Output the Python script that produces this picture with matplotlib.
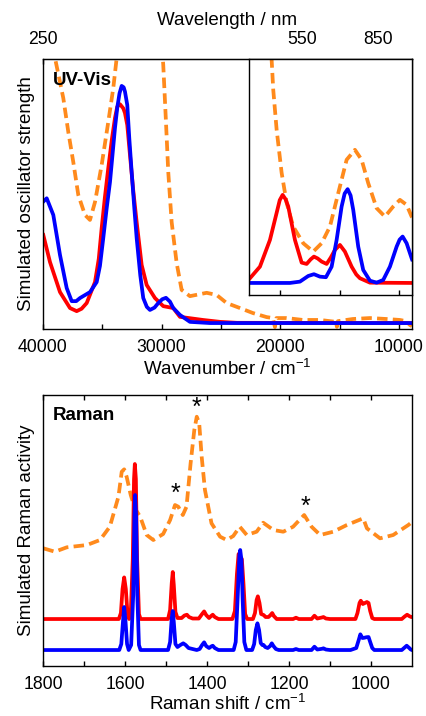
import matplotlib
matplotlib.use("Agg")
import matplotlib.pyplot as plt
import numpy as np

plt.rcParams['font.family'] = ['Liberation Sans', 'DejaVu Sans']
plt.rcParams['mathtext.default'] = 'regular'

RED = '#ff0000'
BLUE = '#0000ff'
ORANGE = '#ff8a1c'

# ---------------- UV-Vis (main panel) ----------------
uv_blue_wn = [39975, 39688, 39132, 38568, 38003, 37582, 37200, 36883, 36040, 35476, 35200,
              34920, 34633, 34355, 33934, 33740, 33550, 33370, 33200, 33092, 32898, 32729,
              32527, 32300, 32106, 31800, 31550, 31250, 30985, 30600, 30286, 29950, 29637,
              29300, 29022, 28458, 27615, 25930, 8900]
uv_blue = [0.510, 0.524, 0.454, 0.286, 0.147, 0.092, 0.092, 0.105, 0.130, 0.172, 0.240,
           0.357, 0.482, 0.592, 0.819, 0.905, 0.965, 0.996, 0.990, 0.972, 0.916, 0.777,
           0.634, 0.480, 0.357, 0.200, 0.105, 0.068, 0.055, 0.065, 0.084, 0.100, 0.106,
           0.090, 0.063, 0.034, 0.005, 0.0, 0.0]

uv_red_wn = [39975, 39410, 38568, 37725, 37161, 36750, 36318, 35619, 35300, 35055, 34780,
             34498, 34200, 33934, 33740, 33513, 33235, 33092, 32898, 32670, 32400, 32106,
             31685, 31263, 30564, 29865, 29022, 28458, 26520, 25088, 23656, 8900]
uv_red = [0.370, 0.256, 0.130, 0.063, 0.050, 0.060, 0.084, 0.172, 0.270, 0.399, 0.530,
          0.651, 0.770, 0.861, 0.909, 0.919, 0.902, 0.882, 0.832, 0.706, 0.560, 0.424,
          0.244, 0.160, 0.105, 0.071, 0.063, 0.026, 0.013, 0.005, 0.001, 0.0]

uv_exp_wn = [40000, 38989, 38290, 37869, 37447, 37026, 36462, 36040, 35619, 35055,
             34498, 34077, 33791, 33400, 30300, 29865, 29637, 29443, 29157, 28736,
             28315, 27615, 26208, 25366, 24523, 23403, 22308, 21153, 20622, 20454,
             20328, 19468, 18095, 16663, 15314, 15230, 15146, 13882, 12450, 11043,
             9922, 9417, 9080, 8911]
uv_exp = [1.45, 1.113, 0.945, 0.803, 0.676, 0.538, 0.454, 0.433, 0.508, 0.664,
          0.845, 0.987, 1.113, 1.40, 1.40, 1.084, 0.845, 0.634, 0.424, 0.252,
          0.139, 0.113, 0.127, 0.118, 0.084, 0.063, 0.042, 0.025, 0.021, -0.017,
          0.021, 0.021, 0.013, 0.013, 0.005, -0.016, 0.008, 0.017, 0.021, 0.017,
          0.013, 0.008, -0.008, -0.013]

# ---------------- UV-Vis (inset, magnified) ----------------
in_red_wn = [22700, 22560, 21718, 20875, 20311, 20050, 19805, 19560, 19333, 18769, 18204,
             17783, 17450, 17168, 16850, 16520, 16098, 15750, 15399, 14978, 14557, 13992,
             13600, 13293, 12450, 8900]
in_red = [0.03, 0.050, 0.173, 0.457, 0.745, 0.880, 0.936, 0.890, 0.812, 0.457, 0.216,
          0.202, 0.250, 0.280, 0.260, 0.227, 0.202, 0.270, 0.351, 0.404, 0.333, 0.173,
          0.090, 0.050, 0.003, 0.0]

in_blue_wn = [22700, 19190, 18348, 17648, 17168, 16663, 16157, 15677, 15256, 14835,
              14580, 14329, 14080, 13857, 13436, 13015, 12450, 11886, 11329, 10765, 10200,
              9950, 9695, 9358, 8937, 8900]
in_blue = [0.0, 0.0, 0.014, 0.074, 0.093, 0.067, 0.061, 0.173, 0.457, 0.812,
           0.950, 0.997, 0.930, 0.777, 0.386, 0.138, 0.024, 0.003, 0.032, 0.173, 0.386,
           0.460, 0.493, 0.422, 0.263, 0.25]

in_exp_wn = [21000, 20732, 20597, 20311, 19890, 19468, 18912, 18070, 17227, 16520,
             15820, 15121, 14413, 13714, 13150, 12594, 11886, 11187, 10487, 9922,
             9358, 8937, 8900]
in_exp = [2.9, 2.372, 2.053, 1.628, 1.170, 0.851, 0.599, 0.422, 0.333, 0.422,
          0.599, 0.954, 1.309, 1.415, 1.309, 1.061, 0.795, 0.705, 0.812, 0.883,
          0.830, 0.705, 0.70]

# ---------------- Raman ----------------
ram_blue_x = [1800, 1614, 1609, 1605, 1602, 1599, 1595, 1591, 1585, 1580, 1577, 1575.5,
              1573, 1570, 1566, 1562, 1495, 1490, 1486, 1483.5, 1481, 1477, 1472, 1465,
              1458, 1452, 1445, 1435, 1425, 1418, 1412, 1407, 1402, 1395, 1390, 1386,
              1381, 1372, 1335, 1330, 1325, 1321, 1319, 1316, 1313, 1309, 1304, 1290,
              1285, 1281, 1277, 1273, 1269, 1265, 1262, 1258, 1252, 1246, 1242, 1238,
              1232, 1225, 1190, 1183, 1176, 1145, 1138, 1131, 1120, 1116, 1110, 1100,
              1050, 1043, 1036, 1030, 1026, 1021, 1016, 1011, 1006, 1002, 997, 992,
              925, 918, 913, 908, 903, 900]
ram_blue = [0, 0, 0.06, 0.28, 0.43, 0.30, 0.06, 0.0, 0.05, 0.55, 1.35, 1.55,
            1.35, 0.55, 0.05, 0, 0, 0.08, 0.32, 0.39, 0.28, 0.06, 0.03, 0.05,
            0.067, 0.05, 0.02, 0.01, 0.0, 0.01, 0.05, 0.077, 0.04, 0.02, 0.035, 0.043,
            0.02, 0, 0, 0.08, 0.55, 0.95, 1.0, 0.9, 0.5, 0.08, 0, 0,
            0.06, 0.2, 0.267, 0.2, 0.07, 0.05, 0.05, 0.03, 0.02, 0.04, 0.067, 0.04,
            0.01, 0, 0, 0.01, 0, 0, 0.033, 0.005, 0.012, 0.017, 0.005, 0,
            0, 0.01, 0.02, 0.1, 0.157, 0.12, 0.123, 0.128, 0.13, 0.08, 0.02, 0,
            0, 0.025, 0.043, 0.025, 0.005, 0]

ram_red_x = [1800, 1615, 1610, 1606, 1602, 1598, 1594, 1590, 1586, 1581, 1578, 1576,
             1573.5, 1570.5, 1566, 1562, 1495, 1490, 1486, 1483.5, 1481, 1477, 1472, 1462,
             1455, 1449, 1444, 1435, 1420, 1412, 1407, 1402, 1395, 1390, 1386, 1381,
             1372, 1338, 1332, 1327, 1323, 1319, 1315, 1311, 1307, 1302, 1288, 1283,
             1279, 1276, 1272, 1268, 1262, 1257, 1250, 1245, 1241, 1237, 1230, 1190,
             1183, 1176, 1145, 1138, 1131, 1120, 1116, 1110, 1100, 1038, 1033, 1028,
             1025, 1020, 1015, 1010, 1006, 1002, 997, 992, 925, 918, 912, 907, 902, 900]
ram_red = [0, 0, 0.06, 0.3, 0.416, 0.3, 0.06, 0, 0.05, 0.6, 1.4, 1.55,
           1.4, 0.6, 0.05, 0, 0, 0.09, 0.36, 0.47, 0.34, 0.07, 0.01, 0.01,
           0.035, 0.043, 0.02, 0.005, 0.005, 0.05, 0.076, 0.04, 0.01, 0.03, 0.043, 0.02,
           0, 0, 0.08, 0.45, 0.65, 0.62, 0.6, 0.35, 0.05, 0, 0, 0.06,
           0.19, 0.227, 0.16, 0.05, 0.04, 0.02, 0.02, 0.04, 0.06, 0.03, 0, 0,
           0.013, 0, 0, 0.033, 0.005, 0.015, 0.02, 0.005, 0, 0, 0.06, 0.16,
           0.183, 0.15, 0.16, 0.17, 0.16, 0.08, 0.01, 0, 0, 0.025, 0.043, 0.03, 0.02, 0.02]
red_offset = 0.31

ram_exp_x = [1799, 1771, 1742, 1693, 1661, 1637, 1616, 1608, 1602, 1596, 1586, 1576,
             1563, 1547, 1531, 1507, 1490, 1478, 1470, 1459, 1450, 1440, 1431, 1425,
             1419, 1413, 1405, 1389, 1368, 1352, 1336, 1320, 1303, 1279, 1263, 1238,
             1214, 1190, 1163, 1145, 1124, 1092, 1059, 1019, 1010, 978, 946, 909, 900]
ram_exp = [1.017, 0.983, 1.027, 1.05, 1.10, 1.233, 1.533, 1.783, 1.807, 1.733, 1.55, 1.417,
           1.333, 1.15, 1.10, 1.16, 1.30, 1.45, 1.433, 1.35, 1.433, 1.867, 2.20, 2.333,
           2.267, 1.933, 1.60, 1.267, 1.133, 1.10, 1.14, 1.233, 1.15, 1.183, 1.273, 1.20,
           1.183, 1.233, 1.35, 1.233, 1.15, 1.183, 1.25, 1.317, 1.217, 1.117, 1.15, 1.25, 1.28]

star_x = [1478, 1425, 1161]
star_y = [1.56, 2.42, 1.43]

LW = 2.7
DASH = (0, (2.8, 1.4))
TICK_FS = 12.7
LABEL_FS = 13.5


def wn_to_nm(x):
    x = np.asarray(x, dtype=float)
    out = np.full_like(x, np.inf)
    np.divide(1e7, x, out=out, where=x != 0)
    return out


def style_axes(ax):
    for sp in ax.spines.values():
        sp.set_linewidth(1.0)
    ax.tick_params(axis='both', which='both', direction='in', length=3.8, width=1.0,
                   labelsize=TICK_FS, pad=7)
    ax.set_yticks([])


fig = plt.figure(figsize=(4.27, 7.16), dpi=100)

# UV-Vis panel
ax1 = fig.add_axes([0.1007, 0.5405, 0.8642, 0.3771])
ax1.plot(uv_exp_wn, uv_exp, color=ORANGE, lw=LW, ls=DASH)
ax1.plot(uv_red_wn, uv_red, color=RED, lw=LW)
ax1.plot(uv_blue_wn, uv_blue, color=BLUE, lw=LW)
ax1.set_xlim(40000, 8900)
ax1.set_ylim(-0.025, 1.109)
style_axes(ax1)
ax1.set_xticks([40000, 30000, 20000, 10000])
ax1.set_xticks([35000, 25000, 15000], minor=True)
ax1.set_xlabel('Wavenumber / cm$^{-1}$', fontsize=LABEL_FS, labelpad=2)
ax1.set_ylabel('Simulated oscillator strength', fontsize=LABEL_FS, labelpad=6)
ax1.text(0.027, 0.95, 'UV-Vis', transform=ax1.transAxes, fontsize=13.5,
         fontweight='bold', ha='left', va='top')

sec = ax1.secondary_xaxis('top', functions=(wn_to_nm, wn_to_nm))
sec.set_xticks([250, 550, 850])
sec.tick_params(axis='x', which='both', direction='in', length=3.8, width=1.0,
                labelsize=TICK_FS, pad=8)
sec.xaxis.set_minor_locator(matplotlib.ticker.NullLocator())
sec.set_xlabel('Wavelength / nm', fontsize=LABEL_FS, labelpad=4)

# Inset
ax_in = fig.add_axes([0.583, 0.588, 0.382, 0.330])
ax_in.plot(in_exp_wn, in_exp, color=ORANGE, lw=LW, ls=DASH)
ax_in.plot(in_red_wn, in_red, color=RED, lw=LW)
ax_in.plot(in_blue_wn, in_blue, color=BLUE, lw=LW)
ax_in.set_xlim(22645, 8900)
ax_in.set_ylim(-0.128, 2.383)
style_axes(ax_in)
ax_in.set_xticks([20000, 15000, 10000])
ax_in.set_xticklabels([])

# Raman panel
ax2 = fig.add_axes([0.1007, 0.0698, 0.8642, 0.3785])
ax2.plot(ram_exp_x, ram_exp, color=ORANGE, lw=LW, ls=DASH)
ax2.plot(ram_red_x, np.array(ram_red) + red_offset, color=RED, lw=LW)
ax2.plot(ram_blue_x, ram_blue, color=BLUE, lw=LW)
for sx, sy in zip(star_x, star_y):
    ax2.text(sx, sy, '*', fontsize=18, ha='center', va='center')
ax2.set_xlim(1800, 900)
ax2.set_ylim(-0.16, 2.55)
style_axes(ax2)
ax2.set_xticks([1800, 1600, 1400, 1200, 1000])
ax2.set_xticks([1700, 1500, 1300, 1100], minor=True)
ax2.tick_params(axis='x', which='both', top=True)
ax2.set_xlabel('Raman shift / cm$^{-1}$', fontsize=LABEL_FS, labelpad=1)
ax2.set_ylabel('Simulated Raman activity', fontsize=LABEL_FS, labelpad=6)
ax2.text(0.027, 0.955, 'Raman', transform=ax2.transAxes, fontsize=13.5,
         fontweight='bold', ha='left', va='top')

fig.savefig('out.png', dpi=100)
